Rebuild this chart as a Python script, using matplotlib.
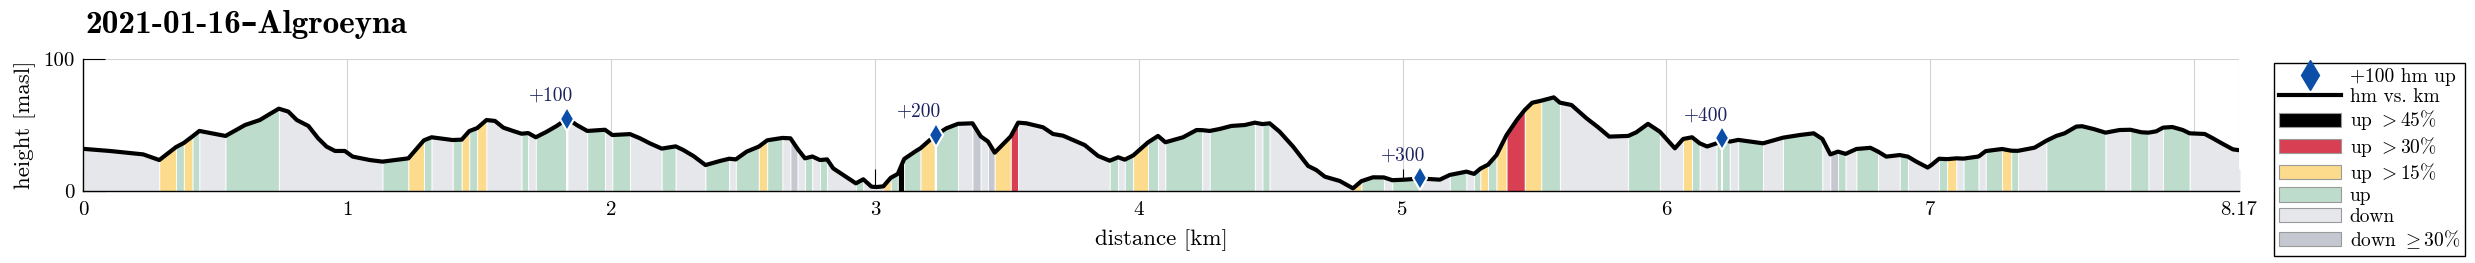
import matplotlib
matplotlib.use("Agg")
import matplotlib.pyplot as plt
from matplotlib.lines import Line2D
from matplotlib.patches import Patch
import numpy as np

plt.rcParams['font.family'] = ['cmr10', 'DejaVu Serif']
plt.rcParams['mathtext.fontset'] = 'cm'
plt.rcParams['axes.unicode_minus'] = False

title = '2021-01-16\u2013Algroeyna'

# profile: distance [km], height [masl]
dist_km = [0.000, 0.100, 0.227, 0.288, 0.351, 0.381, 0.414, 0.440, 0.539, 0.575,
           0.613, 0.669, 0.707, 0.741, 0.777, 0.809, 0.853, 0.890, 0.922, 0.954,
           0.991, 1.021, 1.086, 1.134, 1.232, 1.291, 1.320, 1.400, 1.434, 1.463,
           1.493, 1.528, 1.560, 1.592, 1.630, 1.661, 1.686, 1.715, 1.756, 1.794,
           1.835, 1.870, 1.910, 1.977, 2.005, 2.072, 2.110, 2.147, 2.192, 2.245,
           2.274, 2.312, 2.358, 2.413, 2.448, 2.473, 2.514, 2.560, 2.592, 2.640,
           2.650, 2.680, 2.707, 2.735, 2.763, 2.792, 2.819, 2.842, 2.880, 2.928,
           2.956, 2.987, 3.005, 3.032, 3.060, 3.087, 3.111, 3.152, 3.173, 3.227,
           3.271, 3.315, 3.370, 3.401, 3.429, 3.454, 3.515, 3.543, 3.574, 3.637,
           3.675, 3.713, 3.751, 3.795, 3.846, 3.890, 3.922, 3.947, 3.979, 4.035,
           4.073, 4.101, 4.168, 4.219, 4.241, 4.269, 4.307, 4.351, 4.402, 4.440,
           4.469, 4.496, 4.534, 4.585, 4.642, 4.673, 4.705, 4.762, 4.812, 4.844,
           4.888, 4.929, 4.961, 5.008, 5.066, 5.141, 5.179, 5.242, 5.271, 5.295,
           5.324, 5.356, 5.394, 5.435, 5.463, 5.491, 5.526, 5.573, 5.596, 5.640,
           5.697, 5.741, 5.783, 5.855, 5.886, 5.930, 5.975, 6.032, 6.063, 6.097,
           6.126, 6.154, 6.190, 6.212, 6.240, 6.272, 6.366, 6.442, 6.505, 6.558,
           6.591, 6.621, 6.650, 6.679, 6.720, 6.773, 6.802, 6.833, 6.884, 6.915,
           6.947, 6.990, 7.004, 7.033, 7.064, 7.099, 7.126, 7.183, 7.210, 7.272,
           7.307, 7.332, 7.395, 7.440, 7.477, 7.509, 7.553, 7.575, 7.620, 7.664,
           7.717, 7.758, 7.800, 7.827, 7.856, 7.882, 7.917, 7.957, 7.983, 8.040,
           8.071, 8.109, 8.147, 8.170]
height_m = [32.0, 30.4, 27.8, 23.5, 33.3, 36.5, 41.5, 45.6, 41.8, 45.8,
            50.1, 53.9, 58.5, 62.5, 60.3, 53.9, 49.4, 40.0, 33.7, 30.4,
            30.4, 26.1, 23.5, 22.3, 24.8, 38.5, 40.8, 38.7, 39.0, 45.5,
            47.8, 53.9, 53.2, 48.1, 45.5, 43.5, 44.0, 40.8, 45.0, 49.4,
            55.0, 50.1, 45.6, 46.5, 42.5, 43.2, 40.0, 36.2, 32.2, 33.9,
            31.1, 26.6, 19.7, 22.8, 24.5, 24.0, 29.9, 33.7, 38.5, 40.0,
            40.3, 40.0, 32.0, 24.8, 26.2, 23.5, 24.0, 17.2, 12.2, 5.8,
            8.9, 3.3, 3.0, 3.5, 10.0, 13.0, 24.3, 29.9, 32.5, 42.0,
            47.6, 51.0, 51.4, 41.5, 37.5, 29.1, 41.5, 51.9, 51.4, 48.4,
            43.3, 42.0, 38.7, 34.9, 26.6, 23.0, 25.6, 23.8, 27.0, 36.9,
            41.8, 37.0, 40.8, 46.3, 46.2, 45.6, 47.1, 49.4, 50.1, 51.9,
            50.8, 51.4, 45.0, 33.7, 19.0, 15.9, 10.9, 7.6, 2.0, 7.5,
            10.4, 10.3, 8.2, 8.6, 9.5, 8.6, 12.2, 14.7, 13.0, 17.0,
            20.0, 27.3, 42.5, 54.5, 61.5, 67.0, 68.6, 71.1, 67.1, 65.3,
            55.2, 48.4, 41.3, 41.8, 44.6, 51.0, 45.0, 32.4, 39.5, 40.8,
            36.2, 33.8, 36.2, 40.0, 37.5, 38.8, 36.2, 40.5, 42.5, 43.8,
            39.5, 27.8, 29.9, 28.2, 31.9, 32.8, 29.9, 26.1, 27.3, 26.1,
            22.3, 17.8, 19.7, 24.5, 24.2, 24.8, 24.6, 26.2, 30.3, 31.9,
            30.6, 30.5, 32.9, 38.2, 41.8, 43.8, 48.9, 49.2, 47.0, 44.3,
            46.3, 46.5, 44.6, 44.3, 45.3, 48.1, 48.6, 46.3, 43.8, 43.3,
            40.0, 35.7, 31.6, 31.0]

# slope class of each segment: D down, S down>=30%, G up, Y up>15%, R up>30%, B up>45%
slope_class = list(
    'DDDYGYGDGGGGGDDDDDDDDDDGYGDGYGYDDDDG'
    'DGGGDDGDGDDDGDDDGGDGGYGGDSDGDGDDDGDD'
    'DYGBGGYGGDSDSYRDDDDDDDDGDGYGDGGGDGGG'
    'GDGDDDDDDDYGGDGGDDGDGYGYRRYYGGDDDDDG'
    'GGDDYGDDGGDGDGGGDSGDGGDDGDDDDGYDGDGY'
    'GDDGGGGGGDDGGDDGGGDDDDDDDD')

hm_marks_km = [1.835, 3.232, 5.066, 6.212]
hm_labels = ['+100', '+200', '+300', '+400']

class_colors = {'B': '#000000', 'R': '#d93f52', 'Y': '#fddb8c',
                'G': '#bddccb', 'D': '#e6e7eb', 'S': '#c5c8d0'}
legend_classes = ['B', 'R', 'Y', 'G', 'D', 'S']
legend_texts = [r'up $> 45\%$', r'up $> 30\%$', r'up $> 15\%$', 'up', 'down',
                r'down $\geq 30\%$']

x = np.array(dist_km)
h = np.array(height_m)
cls = slope_class[:len(x) - 1]

fig = plt.figure(figsize=(24.75, 2.63), dpi=100)
ax = fig.add_axes([0.03366, 0.2738, 0.8710, 0.5007])

# coloured strips, consecutive segments of same class merged
i = 0
while i < len(cls):
    j = i
    while j + 1 < len(cls) and cls[j + 1] == cls[i]:
        j += 1
    xs = x[i:j + 2]
    ys = h[i:j + 2]
    ax.fill_between(xs, ys, 0, facecolor=class_colors[cls[i]],
                    edgecolor='white', lw=0.6, zorder=1)
    i = j + 1

ax.plot(x, h, color='black', lw=3, solid_joinstyle='round', zorder=3)

mark_h = np.interp(hm_marks_km, x, h)
for mk, mh, lab in zip(hm_marks_km, mark_h, hm_labels):
    ax.plot([mk, mk], [0, mh], color='white', lw=1.5, zorder=2)
    ax.plot(mk, mh, marker='d', ms=12.5, color='#0b4ea8', mec='white', mew=1.5,
            ls='none', zorder=4)
    ax.annotate(lab, (mk, mh), xytext=(4, 13), textcoords='offset points',
                ha='right', va='baseline', fontsize=14, color='#1c2260', zorder=5)

ax.set_xlim(0, 8.17)
ax.set_ylim(0, 100)
ax.set_xticks([0, 1, 2, 3, 4, 5, 6, 7, 8, 8.17])
ax.set_xticklabels(['0', '1', '2', '3', '4', '5', '6', '7', '', '8.17'])
ax.set_yticks([0, 100])
ax.set_yticklabels(['0', '100'])
ax.tick_params(axis='both', direction='in', length=16, width=0.8, labelsize=15)
ax.tick_params(axis='x', pad=7)
ax.tick_params(axis='y', pad=6)
ax.grid(True, color='#d2d2d2', lw=0.8, zorder=0)
ax.set_axisbelow(True)
for s in ['top', 'right']:
    ax.spines[s].set_visible(False)
for s in ['left', 'bottom']:
    ax.spines[s].set_linewidth(1.0)
    ax.spines[s].set_zorder(6)

ax.set_xlabel('distance [km]', fontsize=16.5, labelpad=8)
fig.text(25 / 2475, 0.525, 'height [masl]', rotation=90, ha='center',
         va='center', fontsize=16.5)
fig.text(85 / 2475, 1 - 33 / 263, title, family=['cmb10', 'DejaVu Serif'],
         fontweight='bold', fontsize=24, ha='left', va='baseline')

handles = [Line2D([], [], marker='d', ms=15, color='#0b4ea8', ls='none'),
           Line2D([], [], color='black', lw=3)]
labels = ['+100 hm up', 'hm vs. km']
for c, t in zip(legend_classes, legend_texts):
    handles.append(Patch(facecolor=class_colors[c], edgecolor='#9a9a9a', lw=0.8))
    labels.append(t)
leg = fig.legend(handles, labels, loc='upper left',
                 bbox_to_anchor=(2274 / 2475, 1 - 63 / 263), borderaxespad=0,
                 fontsize=14, handlelength=3.2, handleheight=0.75,
                 labelspacing=0.12, handletextpad=0.45, borderpad=0.25,
                 fancybox=False, framealpha=1, edgecolor='black')
leg.get_frame().set_linewidth(1.0)

fig.savefig('out.png', dpi=100)
